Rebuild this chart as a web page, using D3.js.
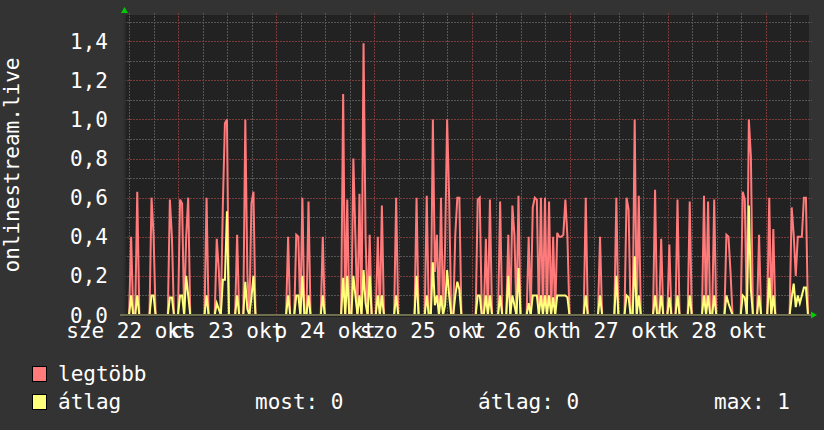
<!DOCTYPE html>
<html><head><meta charset="utf-8">
<script src="https://cdn.jsdelivr.net/npm/d3@7"></script>
<style>body{margin:0;background:#333333;}svg{display:block;}</style>
</head><body><svg id="chart" width="824" height="430"></svg>
<script>
// ---- data ----
const yTicks = [0, 0.2, 0.4, 0.6, 0.8, 1.0, 1.2, 1.4];
const yMinorTicks = [0.1, 0.3, 0.5, 0.7, 0.9, 1.1, 1.3, 1.5];
const dayLabels = ["sze 22 okt", "cs 23 okt", "p 24 okt", "szo 25 okt", "v 26 okt", "h 27 okt", "k 28 okt"];
const dayNumbers = [22, 23, 24, 25, 26, 27, 28];
const yTitle = "onlinestream.live";
const legendNames = ["legtöbb", "átlag"];
const legendStats = ["most: 0", "átlag: 0", "max: 1"];
// half-hour slot index (0 = start of window) of every non-zero sample
const slots = [3,6,13,14,22,23,27,28,30,31,40,45,46,48,49,50,55,59,60,62,63,
  80,84,85,87,90,97,107,109,112,113,115,117,118,120,124,126,133,
  143,148,151,152,153,155,157,158,159,162,163,164,173,174,177,179,184,188,190,191,193,198,200,201,202,
  204,206,208,210,212,213,214,215,216,217,226,233,241,246,247,250,252,260,263,267,
  271,277,284,286,289,295,296,297,303,304,306,307,311,316,318,327,328,329,330,331,332,333,334];
const maxValues = [0.40,0.63,0.60,0.41,0.59,0.40,0.59,0.57,0.40,0.60,0.60,0.39,0.23,0.57,0.98,1.00,0.41,1.00,0.21,0.57,0.63,
  0.40,0.41,0.40,0.60,0.58,0.40,1.13,0.59,0.80,0.40,0.62,1.39,0.40,0.41,0.40,0.56,0.60,
  0.60,0.61,1.00,0.22,0.41,0.60,0.35,1.00,0.59,0.41,0.60,0.60,0.59,0.60,0.39,0.59,0.58,0.41,0.56,0.41,0.61,0.40,0.55,0.60,0.59,
  0.60,0.60,0.58,0.40,0.42,0.40,0.40,0.41,0.59,0.40,0.60,0.40,0.60,0.60,0.54,1.00,0.61,0.64,0.39,0.36,
  0.59,0.58,0.61,0.58,0.59,0.41,0.40,0.22,0.63,0.59,1.00,0.81,0.41,0.60,0.44,0.55,0.41,0.20,0.40,0.40,0.40,0.60,0.60];
const avgValues = [0.10,0.10,0.10,0.10,0.09,0.09,0.10,0.10,0.20,0.10,0.10,0.06,0.03,0.18,0.18,0.53,0.10,0.17,0.03,0.09,0.20,
  0.10,0.10,0.10,0.20,0.10,0.10,0.19,0.20,0.20,0.10,0.10,0.23,0.06,0.20,0.10,0.10,0.10,
  0.20,0.10,0.27,0.05,0.10,0.10,0.05,0.23,0.10,0.10,0.17,0.13,0.10,0.10,0.10,0.10,0.10,0.20,0.10,0.05,0.24,0.06,0.10,0.10,0.10,
  0.10,0.10,0.10,0.09,0.10,0.10,0.10,0.10,0.10,0.09,0.10,0.10,0.20,0.10,0.09,0.30,0.10,0.10,0.10,0.09,
  0.10,0.10,0.10,0.10,0.10,0.10,0.06,0.03,0.10,0.09,0.56,0.13,0.10,0.19,0.10,0.09,0.16,0.04,0.10,0.06,0.10,0.14,0.14];
const slotCount = 336;
const startTime = Date.UTC(2025, 9, 22, 10, 40);
const endTime = Date.UTC(2025, 9, 29, 10, 40);

// ---- drawing ----
const FONT = "'DejaVu Sans Mono', 'Liberation Mono', monospace";
const svg = d3.select("#chart");
const L = 124, R = 809, T = 15, B = 315;
const x = d3.scaleUtc().domain([startTime, endTime]).range([L, R]);
const y = d3.scaleLinear().domain([0, 1.534]).range([B, T]);

svg.append("rect").attr("width", 824).attr("height", 430).attr("fill", "#333333");
svg.append("rect").attr("x", L).attr("y", T).attr("width", R - L).attr("height", B - T + 2).attr("fill", "#222222");

const grid = svg.append("g").attr("shape-rendering", "crispEdges").attr("stroke-dasharray", "2,1");
const dayTicks = x.ticks(d3.utcDay.every(1));
const hourTicks = x.ticks(d3.utcHour.every(6)).filter(t => t.getUTCHours() !== 0);
grid.selectAll(".vmin").data(hourTicks).join("line")
  .attr("x1", d => Math.round(x(d)) + 0.5).attr("x2", d => Math.round(x(d)) + 0.5)
  .attr("y1", 13).attr("y2", B).attr("stroke", "#555555");
grid.selectAll(".hmin").data(yMinorTicks).join("line")
  .attr("x1", L).attr("x2", 812).attr("y1", d => Math.round(y(d)) + 0.5).attr("y2", d => Math.round(y(d)) + 0.5)
  .attr("stroke", "#555555");
grid.selectAll(".vmaj").data(dayTicks).join("line")
  .attr("x1", d => Math.round(x(d)) + 0.5).attr("x2", d => Math.round(x(d)) + 0.5)
  .attr("y1", 13).attr("y2", B).attr("stroke", "#7a3b3b");
grid.selectAll(".hmaj").data(yTicks.filter(v => v > 0)).join("line")
  .attr("x1", L).attr("x2", 812).attr("y1", d => Math.round(y(d)) + 0.5).attr("y2", d => Math.round(y(d)) + 0.5)
  .attr("stroke", "#7a3b3b");

// series as full half-hour arrays (zero where the picture shows nothing), points at slot centres
function fullSeries(vals) {
  const arr = new Array(slotCount).fill(0);
  slots.forEach((s, i) => { arr[s] = vals[i]; });
  return arr.map((v, i) => ({ t: startTime + (i + 0.5) * 1800000, v }));
}
const line = d3.line().x(d => x(d.t)).y(d => y(d.v)).curve(d3.curveLinear);
svg.append("path").datum(fullSeries(maxValues)).attr("d", line)
  .attr("fill", "none").attr("stroke", "#ff7b7b").attr("stroke-width", 2).attr("stroke-linejoin", "miter");
svg.append("path").datum(fullSeries(avgValues)).attr("d", line)
  .attr("fill", "none").attr("stroke", "#ffff7b").attr("stroke-width", 2).attr("stroke-linejoin", "miter");

// axes
svg.append("line").attr("x1", L + 0.5).attr("x2", L + 0.5).attr("y1", T).attr("y2", B)
  .attr("stroke", "#2e2e2e").attr("stroke-width", 2);
svg.append("line").attr("x1", 120).attr("x2", 812).attr("y1", B).attr("y2", B)
  .attr("stroke", "#6f6f50").attr("stroke-width", 2);
svg.append("path").attr("d", "M121,13 L128,13 L124.5,7 Z").attr("fill", "#00cc00");
svg.append("path").attr("d", "M811,311.5 L811,318.5 L817,315 Z").attr("fill", "#00cc00");

// y tick labels
svg.selectAll(".yl").data(yTicks).join("text")
  .attr("x", 108).attr("y", d => y(d) + 7.5).attr("text-anchor", "end")
  .attr("font-family", FONT).attr("font-size", 21).attr("fill", "#ffffff")
  .text(d => d3.format(".1f")(d).replace(".", ","));

// x labels, centred on noon of each day
svg.selectAll(".xl").data(dayLabels).join("text")
  .attr("x", (d, i) => x(Date.UTC(2025, 9, dayNumbers[i], 12))).attr("y", 338)
  .attr("text-anchor", "middle").attr("font-family", FONT).attr("font-size", 21).attr("fill", "#ffffff")
  .text(d => d);

// y title
svg.append("text").attr("transform", "translate(19,165) rotate(-90)").attr("text-anchor", "middle")
  .attr("font-family", FONT).attr("font-size", 21).attr("fill", "#ffffff").text(yTitle);

// legend
const legColors = ["#ff7b7b", "#ffff7b"];
legendNames.forEach((n, i) => {
  svg.append("rect").attr("x", 32.5).attr("y", 366.5 + i * 28).attr("width", 14).attr("height", 15)
    .attr("fill", legColors[i]).attr("stroke", "#000000").attr("stroke-width", 1);
  svg.append("text").attr("x", 58).attr("y", 381 + i * 28).attr("font-family", FONT).attr("font-size", 21)
    .attr("fill", "#ffffff").text(n);
});
const statX = [255, 478, 714];
legendStats.forEach((s, i) => {
  svg.append("text").attr("x", statX[i]).attr("y", 409).attr("font-family", FONT).attr("font-size", 21)
    .attr("fill", "#ffffff").text(s);
});
</script></body></html>
